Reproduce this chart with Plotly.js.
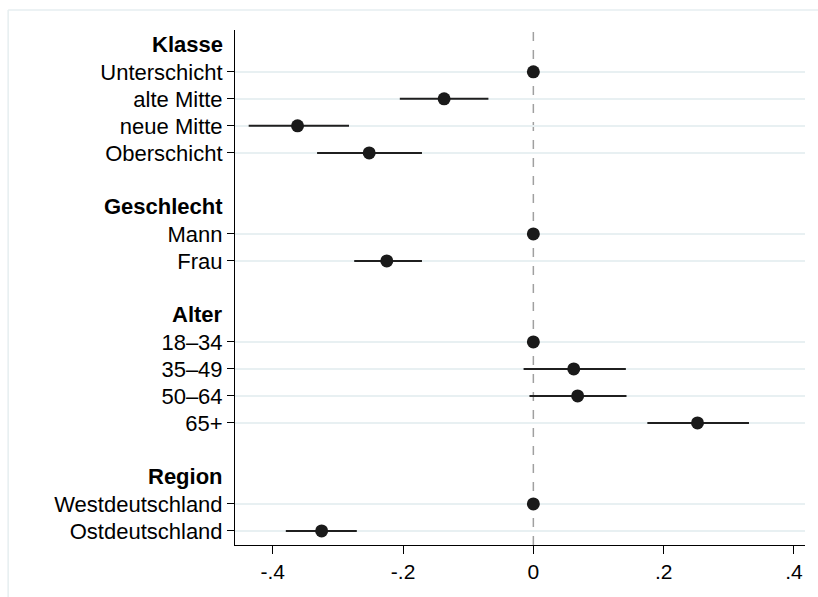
<!DOCTYPE html>
<html>
<head>
<meta charset="utf-8">
<script src="https://cdn.plot.ly/plotly-3.0.1.min.js"></script>
<style>html,body{margin:0;padding:0;background:#fff;}#chart{width:818px;height:597px;}</style>
</head>
<body>
<div id="chart"></div>
<script>
// Row labels (top to bottom); headers are bold, "" marks spacer rows
const rowLabels = ["Klasse","Unterschicht","alte Mitte","neue Mitte","Oberschicht","",
  "Geschlecht","Mann","Frau","",
  "Alter","18–34","35–49","50–64","65+","",
  "Region","Westdeutschland","Ostdeutschland"];
const headers = ["Klasse","Geschlecht","Alter","Region"];
// Coefficients and confidence limits for category rows
const categories = ["Unterschicht","alte Mitte","neue Mitte","Oberschicht","Mann","Frau",
  "18–34","35–49","50–64","65+","Westdeutschland","Ostdeutschland"];
const coef  = [0, -0.137, -0.362, -0.252, 0, -0.225, 0, 0.062, 0.068, 0.252, 0, -0.325];
const lower = [0, -0.205, -0.437, -0.332, 0, -0.275, 0, -0.015, -0.006, 0.175, 0, -0.380];
const upper = [0, -0.069, -0.283, -0.171, 0, -0.171, 0, 0.142, 0.143, 0.331, 0, -0.271];
const xTickVals = [-0.4, -0.2, 0, 0.2, 0.4];
const xTickText = ["-.4", "-.2", "0", ".2", ".4"];

const rowIndex = {};
rowLabels.forEach((l, i) => { if (l) rowIndex[l] = i; });
const catY = categories.map(c => rowIndex[c]);

const traces = [];
// CI lines
categories.forEach((c, i) => {
  if (upper[i] !== lower[i]) {
    traces.push({type: 'scatter', mode: 'lines', x: [lower[i], upper[i]], y: [catY[i], catY[i]],
      line: {color: '#1f1f1f', width: 2}, hoverinfo: 'skip', showlegend: false});
  }
});
traces.push({type: 'scatter', mode: 'markers', x: coef, y: catY,
  marker: {color: '#1a1a1a', size: 13}, showlegend: false});

const font = {family: 'Arial, "Liberation Sans", sans-serif', size: 22, color: '#000'};
const tickFontX = {family: 'Arial, "Liberation Sans", sans-serif', size: 21, color: '#000'};

const annotations = headers.map(h => ({
  xref: 'paper', yref: 'y', x: 0, y: rowIndex[h], xanchor: 'right', yanchor: 'middle',
  xshift: -10, text: '<b>' + h + '</b>', showarrow: false, font: font
}));

const shapes = [
  {type: 'line', xref: 'x', yref: 'paper', x0: 0, x1: 0, y0: 0, y1: 1,
   line: {color: '#a0a0a0', width: 1.5, dash: 'dash'}, layer: 'below'},
  // outer faint frame (left and top)
  {type: 'line', xref: 'paper', yref: 'paper', x0: -0.398, x1: -0.398, y0: 1.0388, y1: -0.2,
   line: {color: '#e6eef0', width: 1.5}},
  {type: 'line', xref: 'paper', yref: 'paper', x0: -0.398, x1: 1.1, y0: 1.0388, y1: 1.0388,
   line: {color: '#e6eef0', width: 1.5}}
];

const layout = {
  width: 818, height: 597,
  margin: {l: 235, r: 13, t: 30, b: 52},
  paper_bgcolor: '#fff', plot_bgcolor: '#fff',
  font: font,
  showlegend: false,
  xaxis: {range: [-0.458, 0.417], tickvals: xTickVals, ticktext: xTickText,
    showgrid: false, zeroline: false, showline: true, linecolor: '#000', linewidth: 1,
    ticks: 'outside', ticklen: 8, tickcolor: '#000', tickfont: tickFontX},
  yaxis: {range: [18.52, -0.55], tickvals: catY, ticktext: categories,
    showgrid: true, gridcolor: '#e8f0f2', gridwidth: 1.5, zeroline: false,
    showline: true, linecolor: '#000', linewidth: 1,
    ticks: 'outside', ticklen: 7, tickcolor: '#000', tickfont: font},
  annotations: annotations,
  shapes: shapes
};

Plotly.newPlot('chart', traces, layout, {displayModeBar: false, staticPlot: true});
</script>
</body>
</html>
